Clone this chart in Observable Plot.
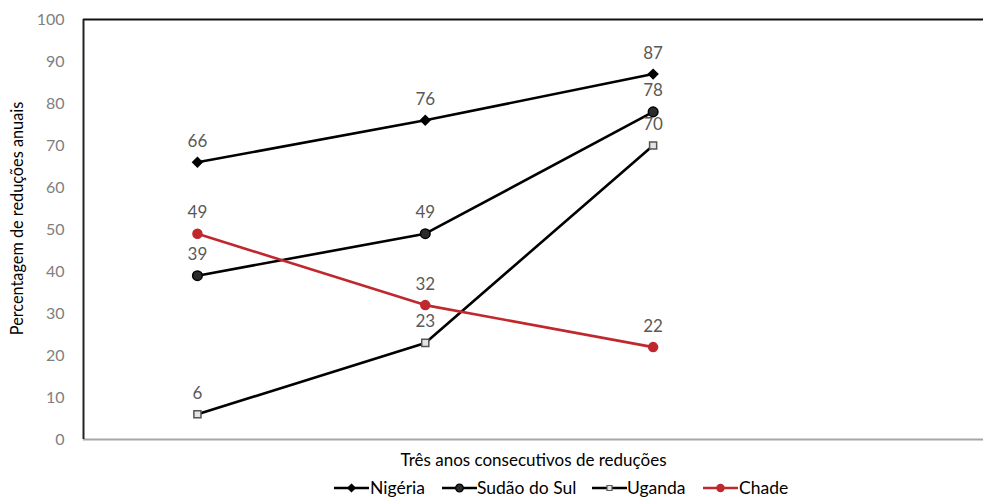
<!DOCTYPE html>
<html>
<head>
<meta charset="utf-8">
<script src="https://cdn.jsdelivr.net/npm/d3@7"></script>
<script src="https://cdn.jsdelivr.net/npm/@observablehq/plot@0.6"></script>
<style>
  html, body { margin: 0; padding: 0; background: #fff; overflow: hidden; }
  body { width: 983px; height: 502px; position: relative; font-family: Lato, "Open Sans", sans-serif; }
  #legend { position: absolute; left: 0; top: 478px; width: 983px; height: 22px; font-size: 17.5px; color: #000; }
  .sw { position: absolute; top: 3px; }
  .lt { position: absolute; top: 0; white-space: nowrap; line-height: 20px; }
</style>
</head>
<body>
<div id="chart"></div>
<div id="legend"></div>
<script>
const years = [1, 2, 3];
const series = ["Nigéria", "Sudão do Sul", "Uganda", "Chade"];
const nigeria = [66, 76, 87];
const sudao = [39, 49, 78];
const uganda = [6, 23, 70];
const chade = [49, 32, 22];
const yTicks = [0, 10, 20, 30, 40, 50, 60, 70, 80, 90, 100];
const xTitle = "Três anos consecutivos de reduções";
const yTitle = "Percentagem de reduções anuais";

const values = [nigeria, sudao, uganda, chade];
const style = {
  "Nigéria":      {stroke: "#000", symbol: "diamond2", d3sym: d3.symbolDiamond2, fill: "#000", mstroke: "#000", r: 4.2, lx: 334, tx: 370},
  "Sudão do Sul": {stroke: "#000", symbol: "circle", d3sym: d3.symbolCircle, fill: "#2b2b2b", mstroke: "#000", r: 4.8, lx: 442, tx: 477},
  "Uganda":       {stroke: "#000", symbol: "square", d3sym: d3.symbolSquare2, fill: "#e4e4e4", mstroke: "#555", r: 4, lx: 592, tx: 627},
  "Chade":        {stroke: "#c0282d", symbol: "circle", d3sym: d3.symbolCircle, fill: "#c0282d", mstroke: "#c0282d", r: 4.5, lx: 703, tx: 739}
};

const data = [];
series.forEach((s, i) => years.forEach((yr, j) => data.push({series: s, x: yr, y: values[i][j]})));

const marks = [
  Plot.ruleY([0], {stroke: "#a6a6a6", strokeWidth: 2}),
  Plot.ruleY([100], {stroke: "#111", strokeWidth: 2}),
  Plot.ruleX([0.5], {stroke: "#222", strokeWidth: 2}),
  Plot.axisY({ticks: yTicks, tickSize: 0, tickPadding: 19, fontSize: 16, fill: "#808080", label: null}),
  Plot.text([yTitle], {frameAnchor: "left", textAnchor: "middle", dx: -66, dy: -11, rotate: -90, fontSize: 16.3, fill: "#000"}),
  Plot.text([xTitle], {frameAnchor: "bottom", dy: 26, fontSize: 17, fill: "#000"})
];
series.forEach(s => {
  const st = style[s];
  const d = data.filter(r => r.series === s);
  marks.push(Plot.line(d, {x: "x", y: "y", stroke: st.stroke, strokeWidth: 2.6}));
});
series.forEach(s => {
  const st = style[s];
  const d = data.filter(r => r.series === s);
  marks.push(Plot.dot(d, {x: "x", y: "y", symbol: () => st.symbol, r: st.r, fill: st.fill, stroke: st.mstroke, strokeWidth: 1.5}));
  marks.push(Plot.text(d, {x: "x", y: "y", text: "y", dy: -21, fontSize: 17, fill: "#595959"}));
});

const chart = Plot.plot({
  width: 983,
  height: 470,
  marginTop: 19,
  marginBottom: 31,
  marginLeft: 83,
  marginRight: 0,
  style: {fontFamily: "Lato, 'Open Sans', sans-serif", background: "#fff"},
  x: {domain: [0.5, 4.45], axis: null},
  y: {domain: [0, 100], axis: null},
  symbol: {type: "identity"},
  marks
});
document.getElementById("chart").appendChild(chart);

const legend = document.getElementById("legend");
const ns = "http://www.w3.org/2000/svg";
series.forEach(s => {
  const st = style[s];
  const sv = document.createElementNS(ns, "svg");
  sv.setAttribute("class", "sw");
  sv.setAttribute("width", 36); sv.setAttribute("height", 14);
  sv.style.left = st.lx + "px";
  const ln = document.createElementNS(ns, "line");
  ln.setAttribute("x1", 0); ln.setAttribute("x2", 35); ln.setAttribute("y1", 7); ln.setAttribute("y2", 7);
  ln.setAttribute("stroke", st.stroke); ln.setAttribute("stroke-width", 2.6);
  sv.appendChild(ln);
  const p = document.createElementNS(ns, "path");
  p.setAttribute("d", d3.symbol(st.d3sym, (st.r * 0.8) ** 2 * Math.PI)());
  p.setAttribute("transform", "translate(17.5,7)");
  p.setAttribute("fill", st.fill); p.setAttribute("stroke", st.mstroke); p.setAttribute("stroke-width", 1.2);
  sv.appendChild(p);
  legend.appendChild(sv);
  const t = document.createElement("span");
  t.className = "lt";
  t.style.left = st.tx + "px";
  t.textContent = s;
  legend.appendChild(t);
});
</script>
</body>
</html>
